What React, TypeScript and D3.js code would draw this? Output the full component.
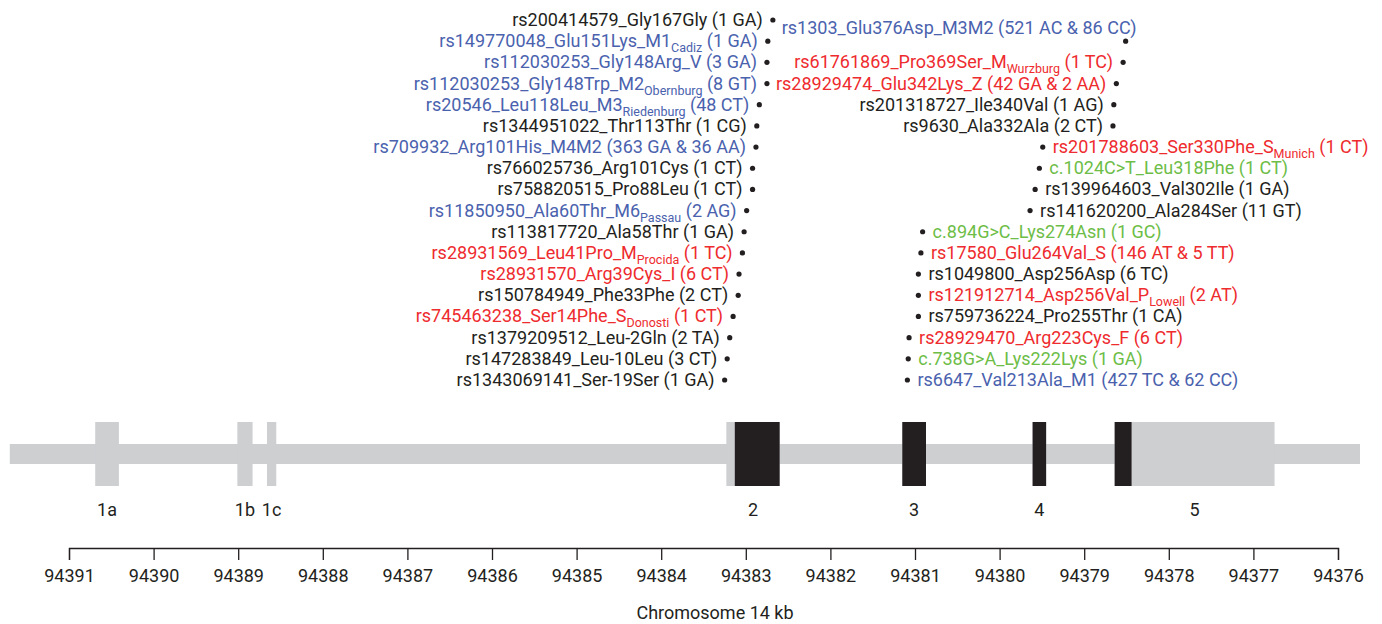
import React, { useEffect, useRef } from 'react';
import * as d3 from 'd3';

const W = 1382;
const H = 624;

// chromosome 14 position, kb (gene runs right to left on the chromosome)
const axisTicks = [94391, 94390, 94389, 94388, 94387, 94386, 94385, 94384, 94383, 94382, 94381, 94380, 94379, 94378, 94377, 94376];
const geneSpan = [94391.70, 94375.74];

const exonNames = ['1a', '1b', '1c', '2', '3', '4', '5'];
const exonStart = [94390.69, 94389.01, 94388.66, 94383.23, 94381.15, 94379.61, 94378.64];
const exonEnd = [94390.41, 94388.83, 94388.55, 94382.60, 94380.87, 94379.45, 94376.75];
// coding part of each exon (null = untranslated)
const cdsStart = [null, null, null, 94383.13, 94381.15, 94379.61, 94378.64];
const cdsEnd = [null, null, null, 94382.60, 94380.87, 94379.45, 94378.44];

// variants, "_{...}" marks a subscript
const leftLabels = [
  'rs200414579_Gly167Gly (1 GA)',
  'rs149770048_Glu151Lys_M1_{Cadiz} (1 GA)',
  'rs112030253_Gly148Arg_V (3 GA)',
  'rs112030253_Gly148Trp_M2_{Obernburg} (8 GT)',
  'rs20546_Leu118Leu_M3_{Riedenburg} (48 CT)',
  'rs1344951022_Thr113Thr (1 CG)',
  'rs709932_Arg101His_M4M2 (363 GA & 36 AA)',
  'rs766025736_Arg101Cys (1 CT)',
  'rs758820515_Pro88Leu (1 CT)',
  'rs11850950_Ala60Thr_M6_{Passau} (2 AG)',
  'rs113817720_Ala58Thr (1 GA)',
  'rs28931569_Leu41Pro_M_{Procida} (1 TC)',
  'rs28931570_Arg39Cys_I (6 CT)',
  'rs150784949_Phe33Phe (2 CT)',
  'rs745463238_Ser14Phe_S_{Donosti} (1 CT)',
  'rs1379209512_Leu-2Gln (2 TA)',
  'rs147283849_Leu-10Leu (3 CT)',
  'rs1343069141_Ser-19Ser (1 GA)',
];
const leftPos = [94382.68, 94382.74, 94382.75, 94382.75, 94382.84, 94382.87, 94382.88, 94382.92, 94382.92,
  94382.99, 94383.02, 94383.04, 94383.08, 94383.09, 94383.15, 94383.19, 94383.22, 94383.25];
const leftType = ['other', 'normal', 'normal', 'normal', 'normal', 'other', 'normal', 'other', 'other',
  'normal', 'other', 'deficient', 'deficient', 'other', 'deficient', 'other', 'other', 'other'];

const rightLabels = [
  'rs1303_Glu376Asp_M3M2 (521 AC & 86 CC)',
  'rs61761869_Pro369Ser_M_{Wurzburg} (1 TC)',
  'rs28929474_Glu342Lys_Z (42 GA & 2 AA)',
  'rs201318727_Ile340Val (1 AG)',
  'rs9630_Ala332Ala (2 CT)',
  'rs201788603_Ser330Phe_S_{Munich} (1 CT)',
  'c.1024C>T_Leu318Phe (1 CT)',
  'rs139964603_Val302Ile (1 GA)',
  'rs141620200_Ala284Ser (11 GT)',
  'c.894G>C_Lys274Asn (1 GC)',
  'rs17580_Glu264Val_S (146 AT & 5 TT)',
  'rs1049800_Asp256Asp (6 TC)',
  'rs121912714_Asp256Val_P_{Lowell} (2 AT)',
  'rs759736224_Pro255Thr (1 CA)',
  'rs28929470_Arg223Cys_F (6 CT)',
  'c.738G>A_Lys222Lys (1 GA)',
  'rs6647_Val213Ala_M1 (427 TC & 62 CC)',
];
const rightPos = [94378.51, 94378.54, 94378.62, 94378.65, 94378.66, 94379.49, 94379.53, 94379.58, 94379.64,
  94380.91, 94380.93, 94380.96, 94380.96, 94380.96, 94381.07, 94381.08, 94381.09];
const rightType = ['normal', 'deficient', 'deficient', 'other', 'other', 'deficient', 'novel', 'other', 'other',
  'novel', 'deficient', 'other', 'deficient', 'other', 'deficient', 'novel', 'normal'];

const colors: Record<string, string> = {
  other: '#231f20',
  normal: '#4a62ae',
  deficient: '#ee2b2e',
  novel: '#6dbd47',
};

const FONT = 'Roboto, "DejaVu Sans", sans-serif';
const FS = 18;

const x = d3.scaleLinear().domain([94391, 94376]).range([69, 1338]);
const rowY = d3.scaleLinear().domain([0, 17]).range([20, 380]);

function Label({ text, ...rest }: any) {
  const m = text.match(/^(.*?)_\{([^}]*)\}(.*)$/);
  if (!m) return <text {...rest}>{text}</text>;
  return (
    <text {...rest}>
      <tspan>{m[1]}</tspan>
      <tspan fontSize={12.5} dy={5}>{m[2]}</tspan>
      <tspan dy={-5}>{m[3]}</tspan>
    </text>
  );
}

export default function App() {
  const axisRef = useRef<SVGGElement>(null);

  useEffect(() => {
    const g = d3.select(axisRef.current);
    g.call(
      d3.axisBottom(x)
        .tickValues(axisTicks)
        .tickFormat(d3.format('d'))
        .tickSize(12)
        .tickSizeOuter(12)
        .tickPadding(9)
    );
    g.select('.domain').attr('stroke', '#231f20').attr('stroke-width', 1.3);
    g.selectAll('.tick line').attr('stroke', '#231f20').attr('stroke-width', 1.3);
    g.selectAll('.tick text')
      .attr('fill', '#231f20')
      .attr('font-family', FONT)
      .attr('font-size', FS);
  }, []);

  const left = leftLabels.map((t, i) => ({ t, pos: leftPos[i], type: leftType[i], row: i }));
  const right = rightLabels.map((t, i) => ({ t, pos: rightPos[i], type: rightType[i], row: i + 1 }));

  return (
    <svg width={W} height={H} style={{ position: 'absolute', left: 0, top: 0, background: '#fff' }}
      fontFamily={FONT} fontSize={FS}>
      {/* gene body */}
      <rect x={x(geneSpan[0])} y={444} width={x(geneSpan[1]) - x(geneSpan[0])} height={20} fill="#cdcfd1" />
      {exonNames.map((n, i) => (
        <g key={n}>
          <rect x={x(exonStart[i])} y={422} width={x(exonEnd[i]) - x(exonStart[i])} height={64} fill="#cdcfd1" />
          {cdsStart[i] != null && (
            <rect x={x(cdsStart[i] as number)} y={422} width={x(cdsEnd[i] as number) - x(cdsStart[i] as number)}
              height={64} fill="#231f20" />
          )}
          <text x={(x(exonStart[i]) + x(exonEnd[i])) / 2} y={516} textAnchor="middle" fill="#231f20">{n}</text>
        </g>
      ))}

      {/* left column: text then dot */}
      {left.map(d => {
        const cx = x(d.pos), cy = rowY(d.row);
        return (
          <g key={'l' + d.row}>
            <Label text={d.t} x={cx - 10} y={cy + 6} textAnchor="end" fill={colors[d.type]} />
            <circle cx={cx} cy={cy} r={2.6} fill="#231f20" />
          </g>
        );
      })}

      {/* right column: exon 5 variants sit left of their dot, the rest to the right */}
      {right.map((d, i) => {
        const cx = x(d.pos), cy = rowY(d.row);
        const before = d.pos < 94379;
        let tx = before ? cx - 10 : cx + 10;
        let ty = cy + 6;
        if (i === 0) { tx = cx + 11; ty = cy - 7; }
        return (
          <g key={'r' + d.row}>
            <Label text={d.t} x={tx} y={ty} textAnchor={before ? 'end' : 'start'} fill={colors[d.type]} />
            <circle cx={cx} cy={cy} r={2.6} fill="#231f20" />
          </g>
        );
      })}

      <g ref={axisRef} transform="translate(0,548)" />
      <text x={715} y={619} textAnchor="middle" fill="#231f20">Chromosome 14 kb</text>
    </svg>
  );
}
